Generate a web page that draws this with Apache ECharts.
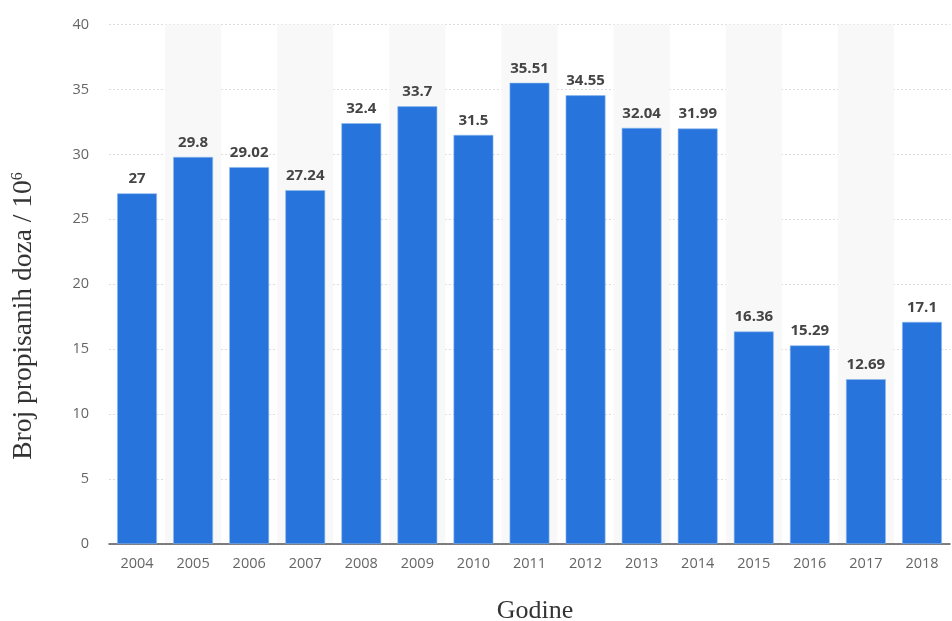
<!DOCTYPE html>
<html><head><meta charset="utf-8">
<script src="https://cdn.jsdelivr.net/npm/echarts@6/dist/echarts.min.js"></script>
<style>html,body{margin:0;padding:0;background:#fff;overflow:hidden}#c{width:952px;height:621px}</style>
</head><body><div id="c"></div>
<script>
const categories = ['2004','2005','2006','2007','2008','2009','2010','2011','2012','2013','2014','2015','2016','2017','2018'];
const values = [27, 29.8, 29.02, 27.24, 32.4, 33.7, 31.5, 35.51, 34.55, 32.04, 31.99, 16.36, 15.29, 12.69, 17.1];
const yTicks = {min: 0, max: 40, interval: 5};
const xTitle = 'Godine';
const yTitle = 'Broj propisanih doza / 10';
const yTitleSup = '6';

const chart = echarts.init(document.getElementById('c'), null, {renderer: 'canvas'});
chart.setOption({
  animation: false,
  graphic: [
    {
      type: 'text', x: 535, y: 611,
      style: {text: xTitle, font: '26px "Liberation Serif"', fill: '#333', align: 'center', verticalAlign: 'middle'}
    },
    {
      type: 'text', x: 24, y: 316, rotation: Math.PI / 2,
      style: {
        text: '{a|' + yTitle + '}{s|' + yTitleSup + '}',
        align: 'center', verticalAlign: 'middle',
        rich: {
          a: {fontFamily: 'Liberation Serif', fontSize: 27.5, fill: '#333', color: '#333'},
          s: {fontFamily: 'Liberation Serif', fontSize: 16, fill: '#333', color: '#333', verticalAlign: 'top', padding: [0, 0, 10, 0]}
        }
      }
    }
  ],
  grid: {left: 109, right: 2, top: 24.5, bottom: 77},
  xAxis: {
    type: 'category',
    data: categories,
    axisLine: {lineStyle: {color: '#555', width: 1.5}},
    axisTick: {show: false},
    axisLabel: {color: '#666', fontFamily: 'Open Sans', fontSize: 14.5, margin: 12},
    splitArea: {show: true, areaStyle: {color: ['rgba(255,255,255,0)', '#f8f8f8']}}
  },
  yAxis: {
    type: 'value',
    min: yTicks.min, max: yTicks.max, interval: yTicks.interval,
    axisLine: {show: false},
    axisTick: {show: false},
    axisLabel: {color: '#666', fontFamily: 'Open Sans', fontSize: 14.5, margin: 20},
    splitLine: {lineStyle: {color: '#dcdcdc', type: [2, 2], width: 1}}
  },
  series: [{
    type: 'bar',
    data: values,
    barWidth: '71%',
    itemStyle: {color: '#2775dc', borderColor: '#8fb8ee', borderWidth: 0.6},
    label: {
      show: true, position: 'top', distance: 7,
      color: '#444', fontFamily: 'Open Sans', fontWeight: 'bold', fontSize: 15
    }
  }]
});
</script></body></html>
